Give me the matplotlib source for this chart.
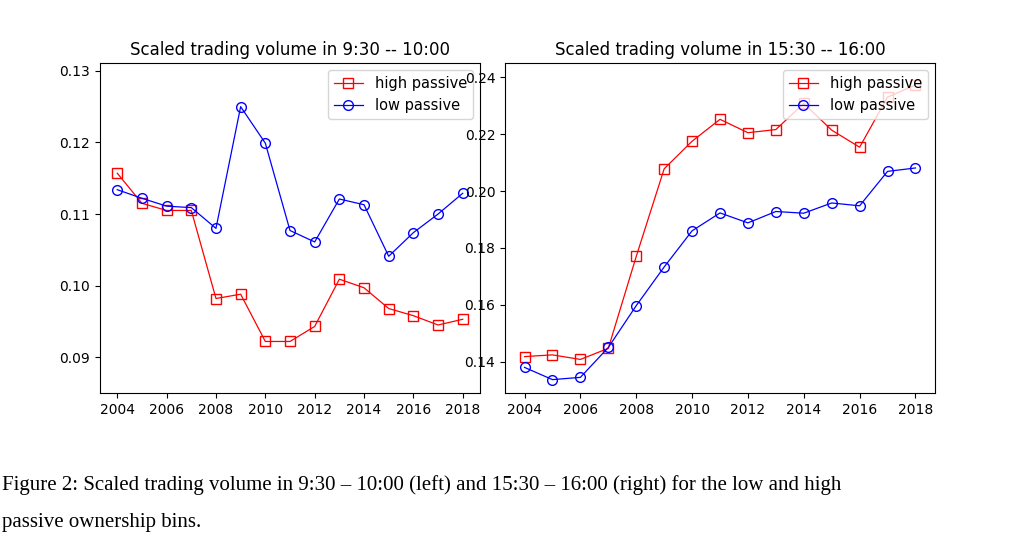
import matplotlib
matplotlib.use("Agg")
import matplotlib.pyplot as plt

years = list(range(2004, 2019))
left_high = [0.1157, 0.1115, 0.1105, 0.1105, 0.0982, 0.0988, 0.0922, 0.0922, 0.0943, 0.1009, 0.0997, 0.0968, 0.0958, 0.0945, 0.0953]
left_low = [0.1134, 0.1122, 0.1111, 0.1109, 0.1080, 0.1250, 0.1199, 0.1077, 0.1061, 0.1121, 0.1113, 0.1041, 0.1074, 0.1100, 0.1129]
right_high = [0.1418, 0.1424, 0.1408, 0.1447, 0.1770, 0.2078, 0.2175, 0.2252, 0.2205, 0.2216, 0.2308, 0.2214, 0.2154, 0.2330, 0.2373]
right_low = [0.1380, 0.1337, 0.1345, 0.1450, 0.1597, 0.1733, 0.1860, 0.1923, 0.1888, 0.1928, 0.1922, 0.1958, 0.1948, 0.2069, 0.2081]

fig = plt.figure(figsize=(10.24, 5.4), dpi=100)
ax1 = fig.add_axes([100/1024, 1-393/540, 380/1024, 330/540])
ax2 = fig.add_axes([505/1024, 1-393/540, 430/1024, 330/540])

def draw(ax, hi, lo, title, ylim, yticks, fmt):
    ax.plot(years, hi, color='red', marker='s', mfc='none', ms=7, lw=0.9, label='high passive')
    ax.plot(years, lo, color='blue', marker='o', mfc='none', ms=7, lw=0.9, label='low passive')
    ax.set_title(title, fontsize=12)
    ax.set_ylim(*ylim)
    ax.set_yticks(yticks)
    ax.set_yticklabels([fmt % v for v in yticks])
    ax.set_xticks(range(2004, 2019, 2))
    ax.legend(loc='upper right', fontsize=10.5)

draw(ax1, left_high, left_low, 'Scaled trading volume in 9:30 -- 10:00', (0.085, 0.1311),
     [0.09, 0.10, 0.11, 0.12, 0.13], '%.2f')
draw(ax2, right_high, right_low, 'Scaled trading volume in 15:30 -- 16:00', (0.129, 0.245),
     [0.14, 0.16, 0.18, 0.20, 0.22, 0.24], '%.2f')

fig.text(2/1024, 1-485/540, 'Figure 2: Scaled trading volume in 9:30 – 10:00 (left) and 15:30 – 16:00 (right) for the low and high',
         fontsize=15, family='Liberation Serif', va='center')
fig.text(2/1024, 1-522/540, 'passive ownership bins.', fontsize=15, family='Liberation Serif', va='center')

fig.savefig('out.png', dpi=100)
